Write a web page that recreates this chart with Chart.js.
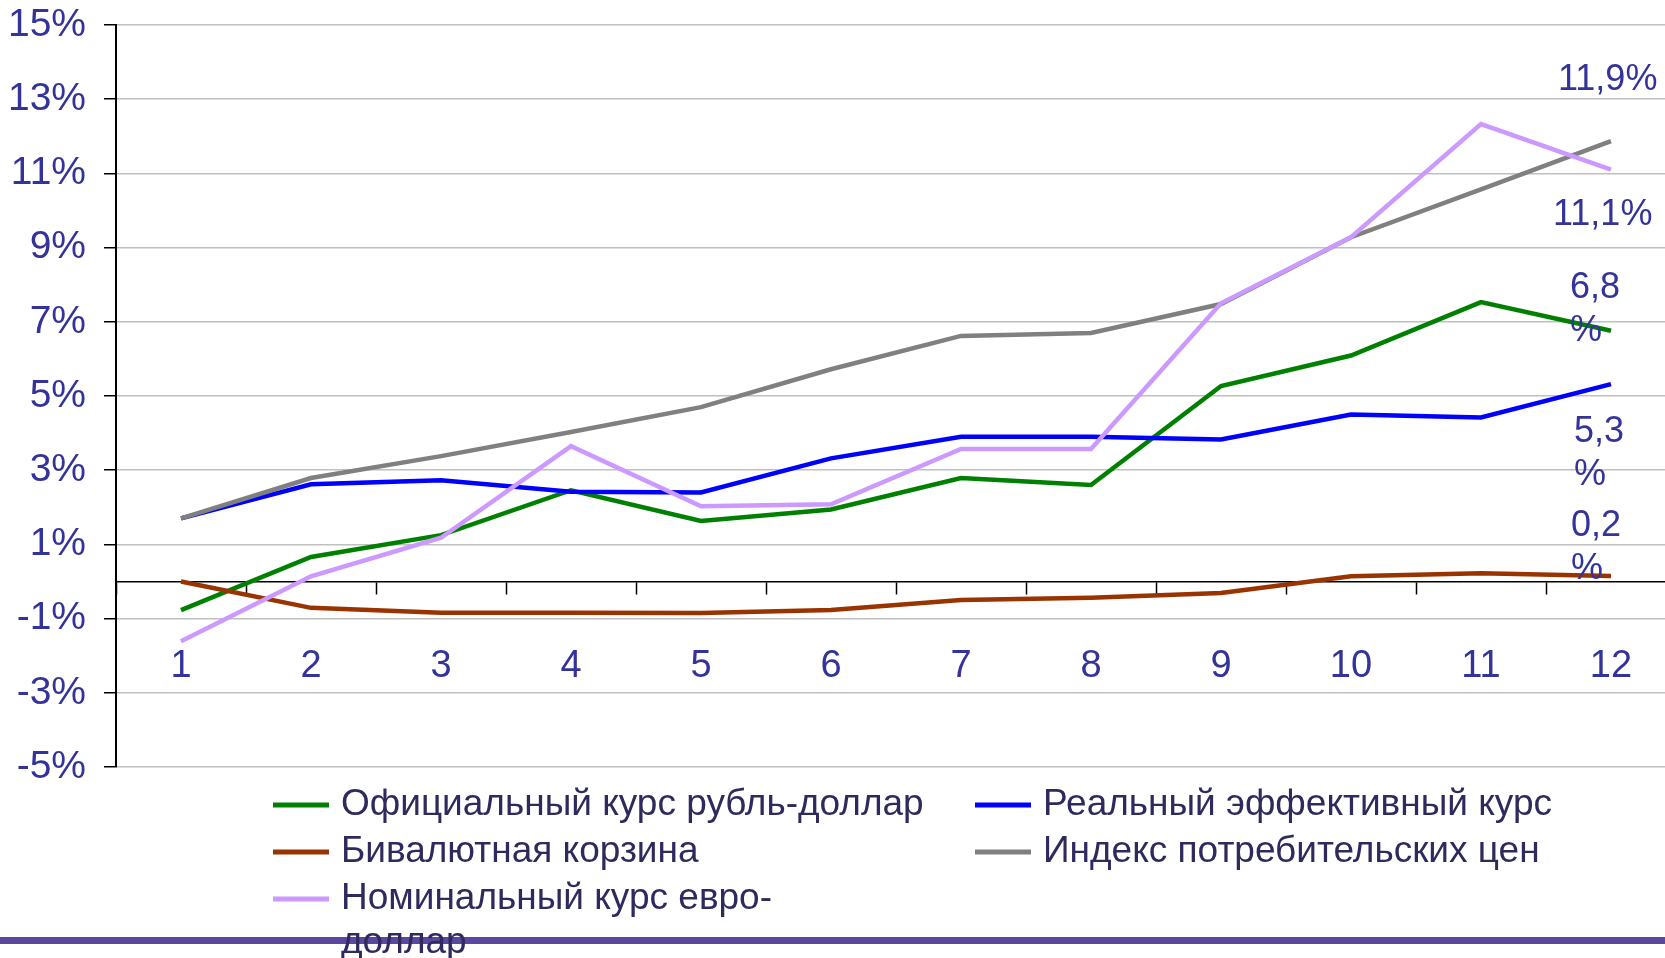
<!DOCTYPE html>
<html>
<head>
<meta charset="utf-8">
<title>Курсы и цены</title>
<script src="https://cdn.jsdelivr.net/npm/chart.js@4.4.1/dist/chart.umd.min.js"></script>
<style>
    html, body { margin: 0; padding: 0; background: #fff; overflow: hidden; }
    #wrap { position: absolute; left: 0; top: 0; width: 1676px; height: 958px; z-index: 1; }
    /* purple rule at the bottom of the slide, text goes over it */
    #rule { position: absolute; left: 0; top: 937px; width: 1665px; height: 7px; background: #5b47a0; z-index: 0; }
</style>
</head>
<body>
<div id="rule"></div>
<div id="wrap"><canvas id="ratesChart" width="1676" height="958"></canvas></div>
<script>
// months
const months = ['1', '2', '3', '4', '5', '6', '7', '8', '9', '10', '11', '12'];

// series names (legend)
const seriesNames = [
    'Официальный курс рубль-доллар',
    'Реальный эффективный курс',
    'Бивалютная корзина',
    'Индекс потребительских цен',
    'Номинальный курс евро-\nдоллар'
];

// cumulative change since start of year, %
const officialUsd = [-0.77, 0.66, 1.25, 2.46, 1.63, 1.94, 2.79, 2.60, 5.27, 6.09, 7.53, 6.76];
const realEffective = [1.70, 2.62, 2.73, 2.42, 2.40, 3.32, 3.90, 3.90, 3.83, 4.50, 4.42, 5.32];
const basket = [0.0, -0.71, -0.84, -0.84, -0.85, -0.77, -0.50, -0.44, -0.31, 0.14, 0.22, 0.15];
const cpi = [1.70, 2.79, 3.38, 4.03, 4.70, 5.72, 6.62, 6.70, 7.48, 9.28, 10.57, 11.87];
const euroUsd = [-1.61, 0.14, 1.18, 3.65, 2.03, 2.08, 3.57, 3.57, 7.50, 9.28, 12.33, 11.10];

// labels at the last month
const endLabels = [['6,8', '%'], ['5,3', '%'], ['0,2', '%'], ['11,9%'], ['11,1%']];

const yTicksMin = -5, yTicksMax = 15, yStep = 2;

const colors = ['#008000', '#0000ff', '#993300', '#808080', '#cc99ff'];
const FONT = "'Liberation Sans', Arial, sans-serif";
const TEXT_BLUE = '#333399';

// where the end labels sit, relative to the last point (dx = left edge, dy = first line middle)
const endLabelPos = [
    {dx: -41, dy: -43},
    {dx: -37, dy: 48},
    {dx: -40, dy: -50},
    {dx: -53, dy: -61},
    {dx: -58, dy: 45}
];

const allSeries = [officialUsd, realEffective, basket, cpi, euroUsd];

var endLabelPlugin = {
    id: 'endLabels',
    afterDatasetsDraw(chart) {
        const ctx = chart.ctx;
        ctx.save();
        ctx.font = '36px ' + FONT;
        ctx.fillStyle = TEXT_BLUE;
        ctx.textAlign = 'left';
        ctx.textBaseline = 'middle';
        chart.data.datasets.forEach((ds, i) => {
            const meta = chart.getDatasetMeta(i);
            const last = meta.data[meta.data.length - 1];
            const p = endLabelPos[i];
            endLabels[i].forEach((line, k) => {
                ctx.fillText(line, last.x + p.dx, last.y + p.dy + k * 43);
            });
        });
        ctx.restore();
    }
};

// legend in two columns, filled row by row like the original
var legendPlugin = {
    id: 'twoColLegend',
    afterDraw(chart) {
        const ctx = chart.ctx;
        const colX = [273, 975];
        const rowY = 805, rowH = 47;
        ctx.save();
        ctx.font = '37px ' + FONT;
        ctx.textBaseline = 'middle';
        ctx.textAlign = 'left';
        chart.data.datasets.forEach((ds, i) => {
            const col = i % 2;
            const row = Math.floor(i / 2);
            const x = colX[col];
            const y = rowY + row * rowH;
            ctx.strokeStyle = ds.borderColor;
            ctx.lineWidth = 5;
            ctx.beginPath();
            ctx.moveTo(x, y);
            ctx.lineTo(x + 56, y);
            ctx.stroke();
            ctx.fillStyle = '#2e2a5e';
            ds.label.split('\n').forEach((line, k) => {
                ctx.fillText(line, x + 68, y + k * (rowH - 3));
            });
        });
        ctx.restore();
    }
};

const datasets = allSeries.map((vals, i) => ({
    label: seriesNames[i],
    data: vals,
    borderColor: colors[i],
    backgroundColor: colors[i],
    borderWidth: 4.5,
    pointRadius: 0,
    tension: 0,
    fill: false,
    order: 5 - i
}));

var ctx = document.getElementById('ratesChart').getContext('2d');
var ratesChart = new Chart(ctx, {
    type: 'line',
    data: { labels: months, datasets: datasets },
    options: {
        responsive: false,
        animation: false,
        devicePixelRatio: 1,
        layout: { padding: { left: 9, top: 25, right: 0, bottom: 191 } },
        plugins: {
            legend: { display: false },
            tooltip: { enabled: false }
        },
        scales: {
            x: {
                type: 'category',
                position: { y: 0 },
                offset: true,
                grid: {
                    offset: true,
                    drawOnChartArea: false,
                    drawTicks: true,
                    tickLength: 12,
                    tickColor: '#000',
                    tickWidth: 1.5
                },
                border: { display: true, color: '#000', width: 1.5 },
                ticks: {
                    color: TEXT_BLUE,
                    font: { family: FONT, size: 38 },
                    padding: 50,
                    maxRotation: 0,
                    autoSkip: false
                },
                afterFit(scale) { scale.paddingLeft = 0; scale.paddingRight = 0; }
            },
            y: {
                min: yTicksMin,
                max: yTicksMax,
                afterFit(scale) {
                    scale.width = 107;
                    scale.paddingTop = 0;
                    scale.paddingBottom = 0;
                },
                grid: {
                    color: '#c0c0c0',
                    lineWidth: 1.5,
                    drawTicks: true,
                    tickLength: 12,
                    tickColor: '#000',
                    tickWidth: 1.5
                },
                border: { display: true, color: '#000', width: 2 },
                ticks: {
                    stepSize: yStep,
                    color: TEXT_BLUE,
                    padding: 18,
                    font: { family: FONT, size: 39 },
                    callback: v => v + '%'
                }
            }
        }
    },
    plugins: [endLabelPlugin, legendPlugin]
});
</script>
</body>
</html>
